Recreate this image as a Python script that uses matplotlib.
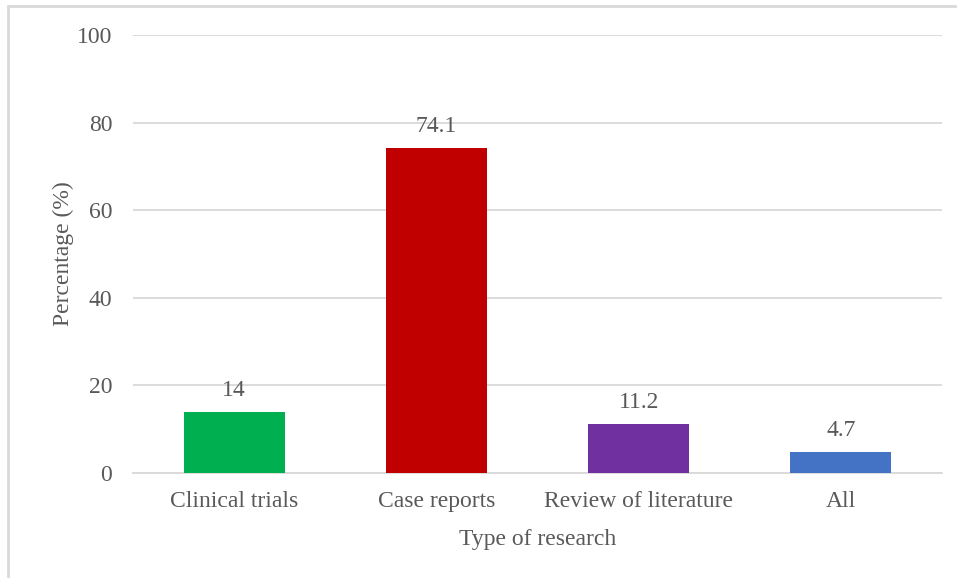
import matplotlib.pyplot as plt
from matplotlib.patches import Rectangle

categories = ['Clinical trials', 'Case reports', 'Review of literature', 'All']
percentages = [14, 74.1, 11.2, 4.7]
value_labels = ['14', '74.1', '11.2', '4.7']
bar_colors = ['#00B050', '#C00000', '#7030A0', '#4472C4']

plt.rcParams['font.family'] = ['Liberation Serif', 'DejaVu Serif']
text_color = '#595959'
grid_color = '#D9D9D9'
fs = 17

fig = plt.figure(figsize=(9.57, 5.78), dpi=100)
ax = fig.add_axes([133 / 957, 1 - 473 / 578, 809 / 957, 438 / 578])

# outer frame (only left and top edges visible in the reference)
fig.patches.append(Rectangle((8 / 957, -0.1), 1.2, 1 - 6 / 578 + 0.1,
                             transform=fig.transFigure, fill=False,
                             edgecolor='#D9D9D9', linewidth=2))

x = range(len(categories))
bars = ax.bar(x, percentages, width=0.5, color=bar_colors, zorder=3)
for b, lab in zip(bars, value_labels):
    ax.annotate(lab, (b.get_x() + b.get_width() / 2, b.get_height()),
                xytext=(0, 8), textcoords='offset points', ha='center',
                va='bottom', fontsize=fs, color=text_color)

ax.set_xlim(-0.5, 3.5)
ax.set_ylim(0, 100)
ax.set_yticks(range(0, 101, 20))
ax.set_xticks(list(x))
ax.set_xticklabels(categories)
ax.yaxis.grid(True, color=grid_color, linewidth=1.3, zorder=0)
ax.set_axisbelow(True)
for side in ['left', 'right', 'top']:
    ax.spines[side].set_visible(False)
ax.spines['bottom'].set_color(grid_color)
ax.spines['bottom'].set_linewidth(1.3)
ax.tick_params(axis='both', length=0, labelsize=fs, colors=text_color)
ax.tick_params(axis='y', pad=15)
ax.tick_params(axis='x', pad=13)

ax.set_xlabel('Type of research', fontsize=fs, color=text_color, labelpad=12)
ax.set_ylabel('Percentage (%)', fontsize=fs, color=text_color, labelpad=2)

fig.savefig('out.png', dpi=100)
